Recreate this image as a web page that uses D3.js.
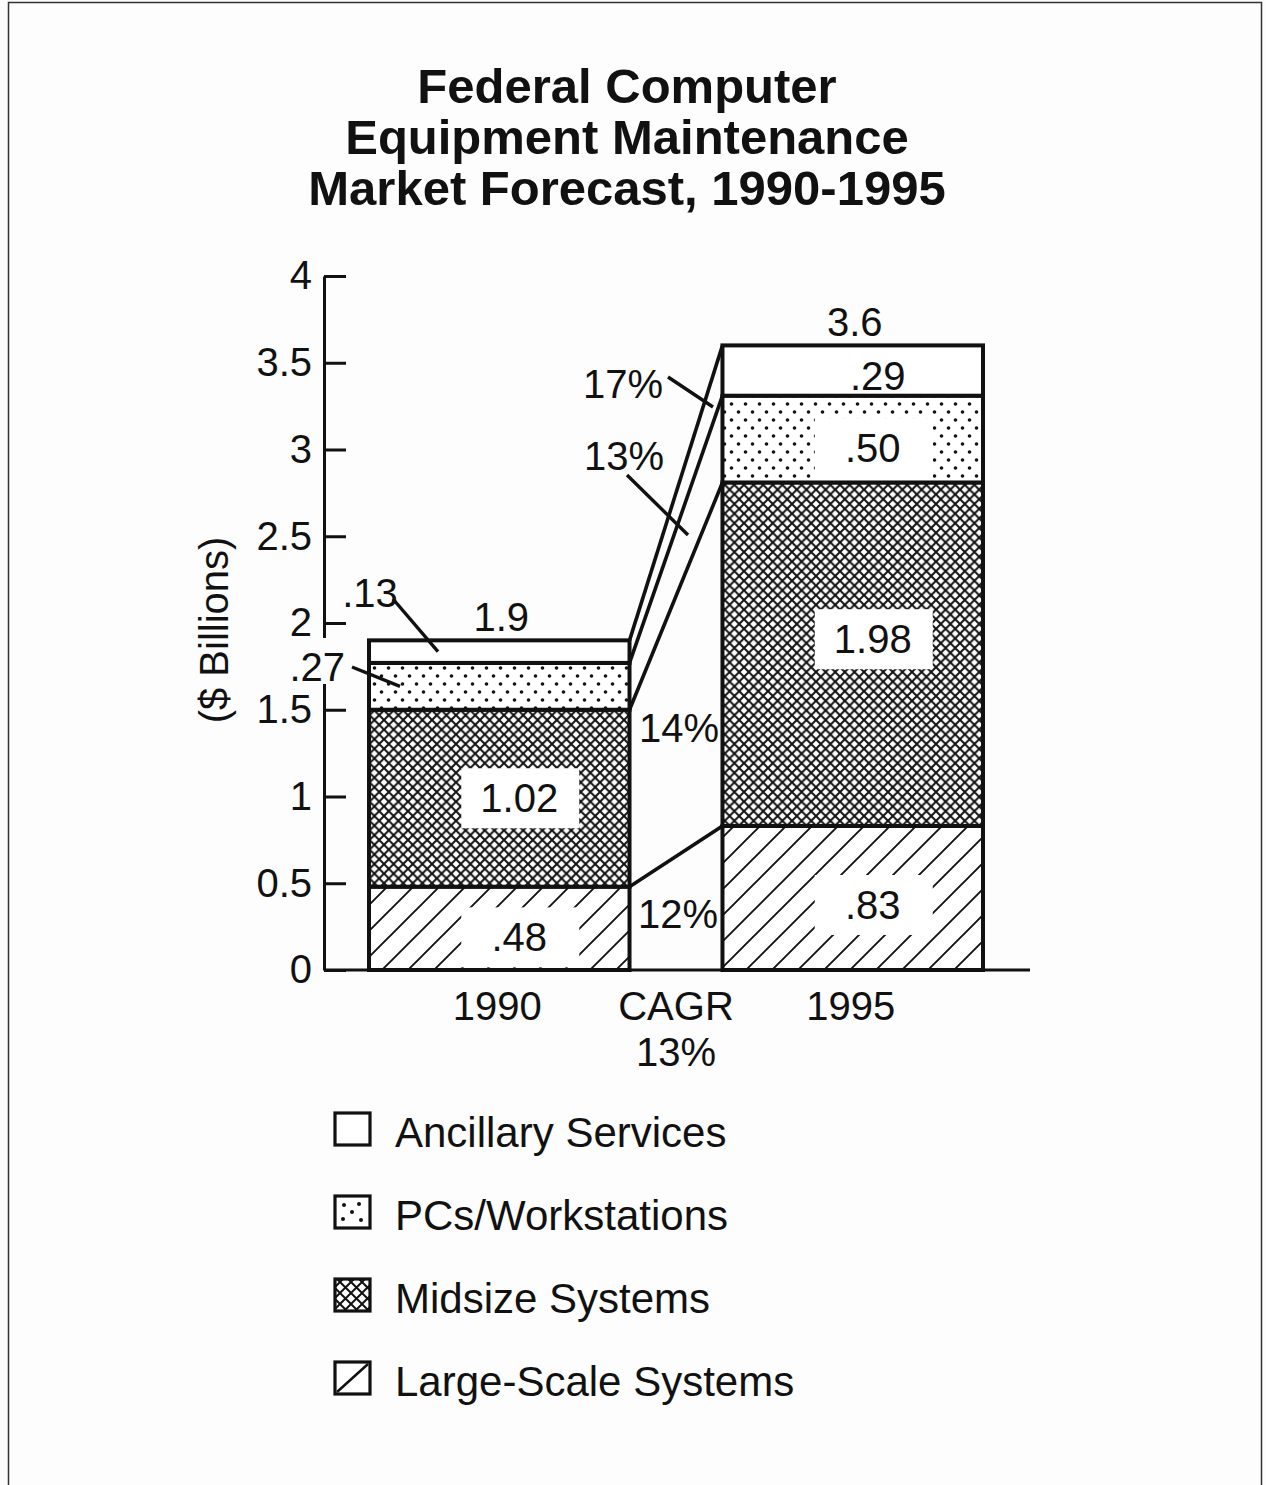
<!DOCTYPE html>
<html lang="en">
<head>
  <meta charset="UTF-8">
  <script src="https://d3js.org/d3.v7.min.js"></script>
  <title>Federal Computer Equipment Maintenance Market Forecast</title>
  <style>
    body { margin: 0; background: #fdfdfd; }
    text { font-family: "Liberation Sans", Arial, Helvetica, sans-serif; fill: #111; }
  </style>
</head>
<body>
  <svg id="chart" width="1266" height="1485"></svg>
  <script>
    // data
    const years = ["1990", "1995"];
    const series = ["Large-Scale Systems", "Midsize Systems", "PCs/Workstations", "Ancillary Services"];
    const values1990 = [0.48, 1.02, 0.27, 0.13];
    const values1995 = [0.83, 1.98, 0.50, 0.29];
    const labels1990 = [".48", "1.02", ".27", ".13"];
    const labels1995 = [".83", "1.98", ".50", ".29"];
    const totalLabels = ["1.9", "3.6"];
    const cagrLabels = ["12%", "14%", "13%", "17%"];
    const overallCagr = "13%";
    const yTicks = [0, 0.5, 1, 1.5, 2, 2.5, 3, 3.5, 4];
    const yTickLabels = ["0", "0.5", "1", "1.5", "2", "2.5", "3", "3.5", "4"];
    const legendOrder = ["Ancillary Services", "PCs/Workstations", "Midsize Systems", "Large-Scale Systems"];
    const titleLines = ["Federal Computer", "Equipment Maintenance", "Market Forecast, 1990-1995"];

    const svg = d3.select("#chart");
    const ink = "#111";

    // page frame
    svg.append("rect").attr("x", 8.5).attr("y", 2.5).attr("width", 1253).attr("height", 1500)
      .attr("fill", "none").attr("stroke", "#333").attr("stroke-width", 1.5);

    // fill patterns
    const defs = svg.append("defs");
    const cross = defs.append("pattern").attr("id", "cross").attr("patternUnits", "userSpaceOnUse")
      .attr("width", 9.6).attr("height", 9.6);
    cross.append("rect").attr("width", 9.6).attr("height", 9.6).attr("fill", "#fff");
    cross.append("path").attr("d", "M-1,-1L10.6,10.6M10.6,-1L-1,10.6M-1,8.6L1,10.6M8.6,-1L10.6,1")
      .attr("stroke", ink).attr("stroke-width", 2);

    const dots = defs.append("pattern").attr("id", "dots").attr("patternUnits", "userSpaceOnUse")
      .attr("width", 14).attr("height", 16);
    dots.append("rect").attr("width", 14).attr("height", 16).attr("fill", "#fff");
    dots.append("circle").attr("cx", 3.5).attr("cy", 4).attr("r", 1.8).attr("fill", ink);
    dots.append("circle").attr("cx", 10.5).attr("cy", 12).attr("r", 1.8).attr("fill", ink);

    const hatch = defs.append("pattern").attr("id", "hatch").attr("patternUnits", "userSpaceOnUse")
      .attr("width", 26).attr("height", 26);
    hatch.append("rect").attr("width", 26).attr("height", 26).attr("fill", "#fff");
    hatch.append("path").attr("d", "M-2,28L28,-2M-15,15L15,-15M11,41L41,11")
      .attr("stroke", ink).attr("stroke-width", 1.9);

    const crossSmall = defs.append("pattern").attr("id", "crossSmall").attr("patternUnits", "userSpaceOnUse")
      .attr("width", 11).attr("height", 11).attr("x", 335).attr("y", 1279);
    crossSmall.append("rect").attr("width", 11).attr("height", 11).attr("fill", "#fff");
    crossSmall.append("path").attr("d", "M-1,-1L12,12M12,-1L-1,12")
      .attr("stroke", ink).attr("stroke-width", 2);

    const fills = {
      "Large-Scale Systems": "url(#hatch)",
      "Midsize Systems": "url(#cross)",
      "PCs/Workstations": "url(#dots)",
      "Ancillary Services": "#fff"
    };

    // scales
    const axisX = 324;
    const x = d3.scaleBand().domain(years).range([369, 983]).paddingInner(0.263).paddingOuter(0);
    const y = d3.scaleLinear().domain([0, 4]).range([970, 276]);
    const bw = x.bandwidth();

    const table = years.map((yr, i) => {
      const row = { year: yr };
      series.forEach((s, j) => { row[s] = [values1990, values1995][i][j]; });
      return row;
    });
    const stacked = d3.stack().keys(series)(table);

    // title
    svg.append("g").selectAll("text").data(titleLines).join("text")
      .attr("x", 627).attr("y", (d, i) => 103 + i * 51)
      .attr("text-anchor", "middle").attr("font-size", 49).attr("font-weight", "bold")
      .text(d => d);

    // y axis, ticks pointing into the plot
    const yAxis = svg.append("g").attr("transform", `translate(${axisX},0)`)
      .call(d3.axisLeft(y).tickValues(yTicks).tickFormat((d, i) => yTickLabels[i])
        .tickSize(-22).tickSizeOuter(0).tickPadding(12));
    yAxis.select(".domain").attr("stroke", ink).attr("stroke-width", 3);
    yAxis.selectAll(".tick line").attr("stroke", ink).attr("stroke-width", 3);
    yAxis.selectAll(".tick text").attr("font-size", 40).attr("fill", ink)
      .attr("font-family", "'Liberation Sans', Arial, sans-serif");

    svg.append("text")
      .attr("transform", `translate(228,630) rotate(-90)`)
      .attr("text-anchor", "middle").attr("font-size", 40)
      .text("($ Billions)");

    // CAGR connector lines between the two stacks
    svg.append("g").selectAll("line").data(stacked).join("line")
      .attr("x1", x("1990") + bw).attr("y1", d => y(d[0][1]))
      .attr("x2", x("1995")).attr("y2", d => y(d[1][1]))
      .attr("stroke", ink).attr("stroke-width", 3.6);

    // stacked bars
    const layer = svg.append("g").selectAll("g").data(stacked).join("g")
      .attr("fill", d => fills[d.key]);
    layer.selectAll("rect").data(d => d).join("rect")
      .attr("x", d => x(d.data.year))
      .attr("y", d => y(d[1]))
      .attr("width", bw)
      .attr("height", d => y(d[0]) - y(d[1]))
      .attr("stroke", ink).attr("stroke-width", 4);

    // x axis baseline
    svg.append("line").attr("x1", axisX).attr("x2", 1030).attr("y1", y(0)).attr("y2", y(0))
      .attr("stroke", ink).attr("stroke-width", 3.2);

    // labels inside the bars (white knockouts); small vertical nudges as on the original
    const nudge = { ".48": 9, "1.02": 0, ".83": 7, "1.98": -15, ".50": 9 };
    const inside = [];
    stacked.forEach((layerData, j) => {
      layerData.forEach((d, i) => {
        const label = (i === 0 ? labels1990 : labels1995)[j];
        const big = d[1] - d[0] > 0.4;
        if (big) inside.push({ label, cx: x(d.data.year) + bw / 2 + 20, cy: (y(d[0]) + y(d[1])) / 2 + nudge[label] });
      });
    });
    const insideG = svg.append("g").selectAll("g").data(inside).join("g");
    insideG.append("rect")
      .attr("x", d => d.cx - 58).attr("y", d => d.cy - 30)
      .attr("width", 118).attr("height", 60).attr("fill", "#fff");
    insideG.append("text")
      .attr("x", d => d.cx).attr("y", d => d.cy + 14)
      .attr("text-anchor", "middle").attr("font-size", 40)
      .text(d => d.label);

    // .29 sits in the white ancillary band
    const anc95 = stacked[3][1];
    svg.append("text").attr("x", x("1995") + bw / 2 + 25).attr("y", (y(anc95[0]) + y(anc95[1])) / 2 + 19)
      .attr("text-anchor", "middle").attr("font-size", 40).text(labels1995[3]);

    // small 1990 segments labelled outside with leaders
    const left90 = x("1990");
    const anc90 = stacked[3][0], pcs90 = stacked[2][0];
    const ancMid = (y(anc90[0]) + y(anc90[1])) / 2;
    const pcsMid = (y(pcs90[0]) + y(pcs90[1])) / 2;
    svg.append("rect").attr("x", 298).attr("y", 638).attr("width", 48).attr("height", 46).attr("fill", "#fdfdfd");
    svg.append("text").attr("x", 370).attr("y", 607).attr("text-anchor", "middle").attr("font-size", 40)
      .text(labels1990[3]);
    svg.append("line").attr("x1", 393).attr("y1", 599).attr("x2", left90 + 69).attr("y2", ancMid)
      .attr("stroke", ink).attr("stroke-width", 3.4);
    svg.append("text").attr("x", 345).attr("y", 681).attr("text-anchor", "end").attr("font-size", 40)
      .text(labels1990[2]);
    svg.append("line").attr("x1", 352).attr("y1", 667).attr("x2", left90 + 31).attr("y2", pcsMid)
      .attr("stroke", ink).attr("stroke-width", 3.4);

    // totals above each bar
    svg.append("g").selectAll("text").data(years).join("text")
      .attr("x", d => x(d) + bw / 2 + 2)
      .attr("y", (d, i) => y(stacked[3][i][1]) - 9)
      .attr("text-anchor", "middle").attr("font-size", 40)
      .text((d, i) => totalLabels[i]);

    // CAGR labels per segment
    const gapMid = (x("1990") + bw + x("1995")) / 2;
    const cagrPos = [
      { x: gapMid + 2, y: 928 },
      { x: gapMid + 3, y: 742 },
      { x: gapMid - 52, y: 470, leader: [627, 475, 688, 535] },
      { x: gapMid - 53, y: 398, leader: [668, 377, 713, 407] }
    ];
    svg.append("g").selectAll("text").data(cagrLabels).join("text")
      .attr("x", (d, i) => cagrPos[i].x).attr("y", (d, i) => cagrPos[i].y)
      .attr("text-anchor", "middle").attr("font-size", 40)
      .text(d => d);
    svg.append("g").selectAll("line").data(cagrPos.filter(p => p.leader)).join("line")
      .attr("x1", p => p.leader[0]).attr("y1", p => p.leader[1])
      .attr("x2", p => p.leader[2]).attr("y2", p => p.leader[3])
      .attr("stroke", ink).attr("stroke-width", 3.4);

    // category labels under the axis
    svg.append("g").selectAll("text").data(years).join("text")
      .attr("x", d => x(d) + bw / 2 - 2).attr("y", 1020)
      .attr("text-anchor", "middle").attr("font-size", 40)
      .text(d => d);
    svg.append("text").attr("x", gapMid).attr("y", 1020).attr("text-anchor", "middle")
      .attr("font-size", 40).text("CAGR");
    svg.append("text").attr("x", gapMid).attr("y", 1066).attr("text-anchor", "middle")
      .attr("font-size", 40).text(overallCagr);

    // legend
    const legend = svg.append("g").selectAll("g").data(legendOrder).join("g")
      .attr("transform", (d, i) => `translate(335,${1113 + i * 83})`);
    legend.append("rect").attr("width", 35).attr("height", 32)
      .attr("fill", d => d === "Midsize Systems" ? "url(#crossSmall)" : "#fff")
      .attr("stroke", ink).attr("stroke-width", 3.2);
    legend.filter(d => d === "PCs/Workstations").selectAll("circle")
      .data([[9, 9], [24, 8], [17, 16], [8, 23], [26, 24]]).join("circle")
      .attr("cx", p => p[0]).attr("cy", p => p[1]).attr("r", 2).attr("fill", ink);
    legend.filter(d => d === "Large-Scale Systems").append("line")
      .attr("x1", 2).attr("y1", 30).attr("x2", 33).attr("y2", 2)
      .attr("stroke", ink).attr("stroke-width", 2.5);
    legend.append("text").attr("x", 60).attr("y", 34).attr("font-size", 42)
      .text(d => d);
  </script>
</body>
</html>
